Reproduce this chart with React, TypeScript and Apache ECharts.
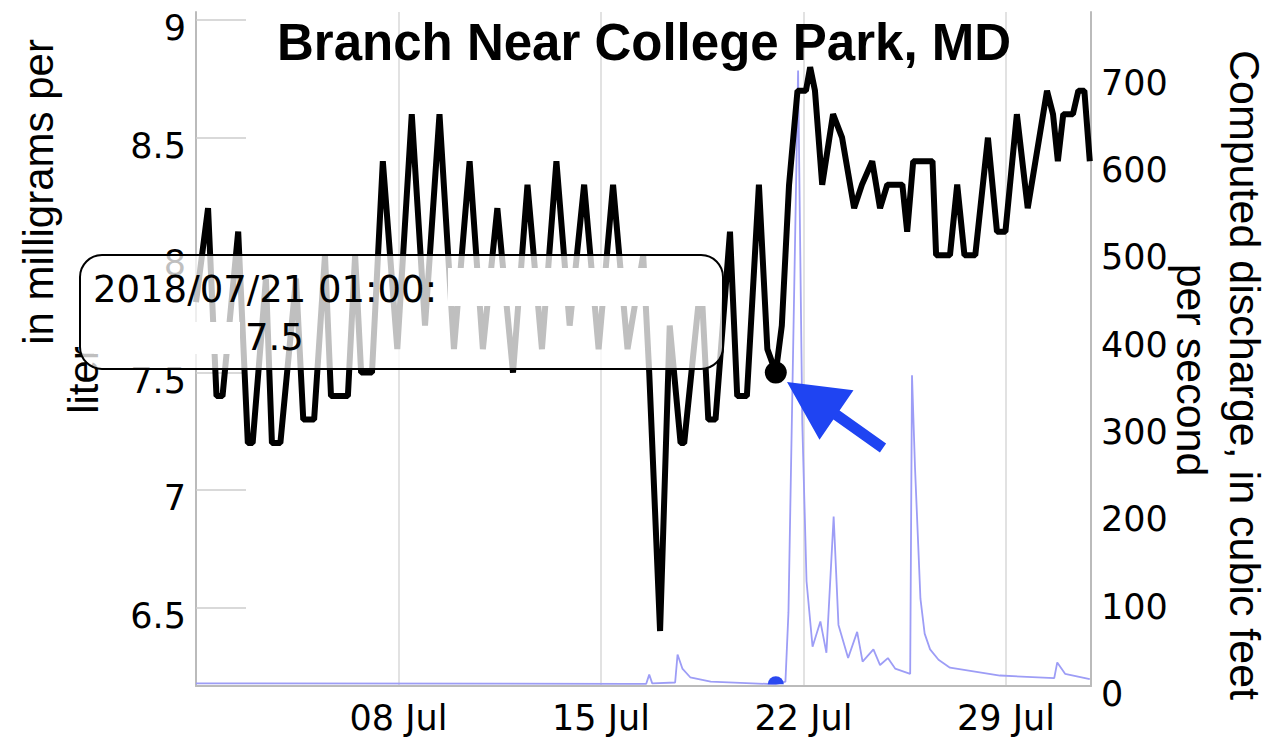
import React, { useEffect, useRef } from 'react';
import * as echarts from 'echarts';

const TITLE = 'Branch Near College Park, MD';
const LEFT_NAME_VISIBLE = 'in milligrams per';
const LEFT_NAME_LINE2 = 'liter';
const RIGHT_NAME_1 = 'Computed discharge, in cubic feet';
const RIGHT_NAME_2 = 'per second';

const xMin = '2018-07-01 00:00';
const xMax = '2018-07-31 22:30';
const weekTicks = ['2018-07-08 00:00', '2018-07-15 00:00', '2018-07-22 00:00', '2018-07-29 00:00'];
const leftTicks = [6.5, 7, 7.5, 8, 8.5, 9];
const monthNames = ['Jan', 'Feb', 'Mar', 'Apr', 'May', 'Jun', 'Jul', 'Aug', 'Sep', 'Oct', 'Nov', 'Dec'];

// Dissolved oxygen, mg/L
const doTimes = [
  '2018-07-01 00:00', '2018-07-01 10:00', '2018-07-01 17:00', '2018-07-01 22:00',
  '2018-07-02 11:00', '2018-07-02 19:00', '2018-07-02 23:00',
  '2018-07-03 10:00', '2018-07-03 15:00', '2018-07-03 22:00',
  '2018-07-04 11:00', '2018-07-04 17:00', '2018-07-05 02:00',
  '2018-07-05 11:00', '2018-07-05 16:00', '2018-07-06 06:00',
  '2018-07-06 12:00', '2018-07-06 17:00', '2018-07-07 02:00',
  '2018-07-07 11:00', '2018-07-07 23:00',
  '2018-07-08 11:00', '2018-07-08 22:00',
  '2018-07-09 10:00', '2018-07-09 22:00',
  '2018-07-10 11:00', '2018-07-10 22:00',
  '2018-07-11 10:00', '2018-07-11 23:00',
  '2018-07-12 11:00', '2018-07-12 23:00',
  '2018-07-13 11:00', '2018-07-13 22:00',
  '2018-07-14 10:00', '2018-07-14 22:00',
  '2018-07-15 10:00', '2018-07-15 22:00',
  '2018-07-16 11:00', '2018-07-16 16:00', '2018-07-17 01:00',
  '2018-07-17 09:00', '2018-07-17 18:00', '2018-07-17 21:00',
  '2018-07-18 11:00', '2018-07-18 17:00', '2018-07-18 23:00',
  '2018-07-19 11:00', '2018-07-19 17:00', '2018-07-20 01:00',
  '2018-07-20 11:00', '2018-07-20 18:00', '2018-07-21 01:00',
  '2018-07-21 06:00', '2018-07-21 12:00', '2018-07-21 19:00',
  '2018-07-22 02:00', '2018-07-22 05:30', '2018-07-22 09:30', '2018-07-22 15:30',
  '2018-07-23 00:30', '2018-07-23 08:00', '2018-07-23 18:00',
  '2018-07-24 00:30', '2018-07-24 09:00', '2018-07-24 15:30', '2018-07-24 21:30',
  '2018-07-25 10:00', '2018-07-25 14:00', '2018-07-25 19:00',
  '2018-07-26 11:00', '2018-07-26 14:00',
  '2018-07-27 01:30', '2018-07-27 07:30', '2018-07-27 13:30', '2018-07-27 22:30',
  '2018-07-28 09:00', '2018-07-28 16:30', '2018-07-28 23:30',
  '2018-07-29 09:00', '2018-07-29 18:00',
  '2018-07-30 10:00', '2018-07-30 15:00', '2018-07-30 19:00', '2018-07-30 23:30',
  '2018-07-31 07:30', '2018-07-31 12:00', '2018-07-31 17:00', '2018-07-31 21:30',
];
const doValues = [
  7.8, 8.2, 7.4, 7.4,
  8.1, 7.2, 7.2,
  7.9, 7.2, 7.2,
  7.9, 7.3, 7.3,
  8.0, 7.4, 7.4,
  8.0, 7.5, 7.5,
  8.4, 7.6,
  8.6, 7.7,
  8.6, 7.6,
  8.4, 7.6,
  8.2, 7.5,
  8.3, 7.6,
  8.4, 7.7,
  8.3, 7.6,
  8.3, 7.6,
  8.0, 7.5, 6.4,
  7.7, 7.2, 7.2,
  7.9, 7.3, 7.3,
  8.1, 7.4, 7.4,
  8.3, 7.6, 7.5,
  7.7, 8.3, 8.7,
  8.7, 8.8, 8.7, 8.3,
  8.6, 8.5, 8.2,
  8.3, 8.4, 8.2, 8.3,
  8.3, 8.1, 8.4,
  8.4, 8.0,
  8.0, 8.3, 8.0, 8.0,
  8.5, 8.1, 8.1,
  8.6, 8.2,
  8.7, 8.6, 8.4, 8.6,
  8.6, 8.7, 8.7, 8.4,
];

// Computed discharge, cubic feet per second
const qTimes = [
  '2018-07-01 00:00', '2018-07-16 00:00', '2018-07-16 13:30', '2018-07-16 16:00', '2018-07-16 18:30',
  '2018-07-17 13:30', '2018-07-17 15:30', '2018-07-17 19:30', '2018-07-18 02:00', '2018-07-18 19:00',
  '2018-07-21 01:00', '2018-07-21 09:00', '2018-07-21 11:30', '2018-07-21 19:30', '2018-07-21 23:00',
  '2018-07-22 02:30', '2018-07-22 07:30', '2018-07-22 14:00', '2018-07-22 19:00',
  '2018-07-23 01:00', '2018-07-23 05:00', '2018-07-23 13:00', '2018-07-23 20:30',
  '2018-07-24 01:00', '2018-07-24 10:00', '2018-07-24 15:30', '2018-07-24 22:00',
  '2018-07-25 04:00', '2018-07-25 16:30', '2018-07-25 18:00', '2018-07-25 20:30',
  '2018-07-26 01:00', '2018-07-26 04:30', '2018-07-26 09:00', '2018-07-26 16:00',
  '2018-07-27 01:30', '2018-07-28 19:00',
  '2018-07-30 16:00', '2018-07-30 18:30', '2018-07-31 01:00', '2018-07-31 21:30',
];
const qValues = [
  3, 2.5, 2.5, 13, 3,
  4, 36, 20, 10, 5,
  2, 5, 84, 705, 300,
  120, 45, 74, 38,
  194, 70, 32, 62,
  28, 42, 24, 32,
  20, 14, 356, 250,
  100, 60, 42, 30,
  21, 12,
  9, 27, 14, 8,
];

const hoverTime = '2018-07-21 01:00';

function ts(s: string): number {
  const [d, t = '00:00'] = s.split(' ');
  const [Y, M, D] = d.split('-').map(Number);
  const [h, m] = t.split(':').map(Number);
  return new Date(Y, M - 1, D, h, m).getTime();
}

function pad(n: number) {
  return String(n).padStart(2, '0');
}

export default function App() {
  const ref = useRef<HTMLDivElement>(null);
  useEffect(() => {
    if (!ref.current) return;
    const chart = echarts.init(ref.current, undefined, { renderer: 'svg' });
    const doData = doTimes.map((t, i) => [ts(t), doValues[i]]);
    const qData = qTimes.map((t, i) => [ts(t), qValues[i]]);
    const hi = doTimes.indexOf(hoverTime);
    const qi = qTimes.indexOf(hoverTime);
    const hd = new Date(ts(hoverTime));
    const tipLine1 = `${hd.getFullYear()}/${pad(hd.getMonth() + 1)}/${pad(hd.getDate())} ${pad(hd.getHours())}:${pad(hd.getMinutes())}:`;
    const tipLine2 = String(doValues[hi]);
    const labelFont = 'DejaVu Sans';
    const nameFont = 'Liberation Sans';
    const weekTs = weekTicks.map(ts);
    const yRich = { v: { fontFamily: labelFont, fontSize: 35, color: '#000', padding: [16, 0, 0, 0] } };

    chart.setOption({
      animation: false,
      title: {
        text: TITLE,
        left: 272,
        top: 12,
        textStyle: { fontFamily: 'Liberation Sans', fontWeight: 'bold', fontSize: 51, color: '#000' },
      },
      grid: { left: 196, right: 182, top: 12, bottom: 51 },
      xAxis: {
        type: 'value',
        min: ts(xMin),
        max: ts(xMax),
        axisLine: { show: true, lineStyle: { color: '#bbbbbb', width: 2 } },
        axisTick: { show: false, customValues: weekTs },
        splitLine: { show: true, lineStyle: { color: '#d9d9d9', width: 1.5 } },
        axisLabel: {
          customValues: weekTs,
          formatter: (v: number) => {
            const d = new Date(v);
            return `${pad(d.getDate())} ${monthNames[d.getMonth()]}`;
          },
          fontFamily: labelFont,
          fontSize: 35,
          color: '#000',
          margin: 14,
        },
      },
      yAxis: [
        {
          type: 'value',
          min: 6.166,
          max: 9.035,
          axisLine: { show: true, lineStyle: { color: '#bbbbbb', width: 2 } },
          axisTick: { show: true, inside: true, length: 50, customValues: leftTicks, lineStyle: { color: '#cccccc', width: 1.5 } },
          splitLine: { show: false },
          axisLabel: {
            customValues: leftTicks,
            formatter: (v: number) => `{v|${v}}`,
            rich: yRich,
            margin: 10,
          },
        },
        {
          type: 'value',
          position: 'right',
          min: 0,
          max: 772,
          interval: 100,
          axisLine: { show: true, lineStyle: { color: '#bbbbbb', width: 2 } },
          axisTick: { show: false },
          splitLine: { show: false },
          axisLabel: {
            formatter: (v: number) => `{v|${v}}`,
            rich: yRich,
            margin: 10,
            showMaxLabel: false,
          },
        },
      ],
      series: [
        {
          name: 'Discharge',
          type: 'line',
          yAxisIndex: 1,
          data: qData,
          showSymbol: false,
          lineStyle: { color: '#9d9df6', width: 1.8 },
          z: 2,
        },
        {
          name: 'Dissolved oxygen',
          type: 'line',
          yAxisIndex: 0,
          data: doData,
          showSymbol: false,
          lineStyle: { color: '#000', width: 6 },
          z: 3,
        },
        {
          type: 'scatter',
          yAxisIndex: 0,
          data: [[ts(hoverTime), doValues[hi]]],
          symbolSize: 22,
          itemStyle: { color: '#000', opacity: 1 },
          z: 5,
        },
        {
          type: 'scatter',
          yAxisIndex: 1,
          data: [[ts(hoverTime), qValues[qi]]],
          symbol: 'path://M0,10 A10,10 0 0 1 20,10 Z',
          symbolSize: [16, 8],
          symbolOffset: [0, -4],
          itemStyle: { color: '#2a48f0', opacity: 1 },
          z: 5,
        },
      ],
      graphic: [
        {
          type: 'text',
          x: 38,
          y: 192,
          rotation: Math.PI / 2,
          style: { text: LEFT_NAME_VISIBLE, fontFamily: nameFont, fontSize: 42, fill: '#000', align: 'center', verticalAlign: 'middle' },
          z: 10,
        },
        {
          type: 'text',
          x: 83,
          y: 380,
          rotation: Math.PI / 2,
          style: { text: LEFT_NAME_LINE2, fontFamily: nameFont, fontSize: 42, fill: '#000', align: 'center', verticalAlign: 'middle' },
          z: 10,
        },
        {
          type: 'text',
          x: 1245,
          y: 375,
          rotation: -Math.PI / 2,
          style: { text: RIGHT_NAME_1, fontFamily: nameFont, fontSize: 43, fill: '#000', align: 'center', verticalAlign: 'middle' },
          z: 10,
        },
        {
          type: 'text',
          x: 1192,
          y: 370,
          rotation: -Math.PI / 2,
          style: { text: RIGHT_NAME_2, fontFamily: nameFont, fontSize: 43, fill: '#000', align: 'center', verticalAlign: 'middle' },
          z: 10,
        },
        {
          type: 'group',
          z: 20,
          children: [
            {
              type: 'rect',
              shape: { x: 80, y: 255, width: 643, height: 114, r: 22 },
              style: { fill: 'rgba(255,255,255,0.75)', stroke: '#000', lineWidth: 2 },
              z: 20,
            },
            {
              type: 'rect',
              shape: { x: 448, y: 268, width: 272, height: 38 },
              style: { fill: '#fff' },
              z: 21,
            },
            {
              type: 'rect',
              shape: { x: 94, y: 322, width: 146, height: 32 },
              style: { fill: '#fff' },
              z: 21,
            },
            {
              type: 'text',
              x: 93,
              y: 289,
              style: { text: tipLine1, fontFamily: labelFont, fontSize: 37, fill: '#000', align: 'left', verticalAlign: 'middle' },
              z: 22,
            },
            {
              type: 'text',
              x: 245,
              y: 337,
              style: { text: tipLine2, fontFamily: labelFont, fontSize: 37, fill: '#000', align: 'left', verticalAlign: 'middle' },
              z: 22,
            },
          ],
        },
        {
          type: 'polygon',
          z: 25,
          shape: {
            points: [
              [787, 382], [853.5, 390.2], [839.6, 410.5], [886.1, 443.5],
              [879.9, 452.5], [833.4, 419.5], [819.5, 439.8],
            ],
          },
          style: { fill: '#1f44f2' },
        },
      ],
    });
    return () => chart.dispose();
  }, []);
  return (
    <div
      ref={ref}
      style={{ position: 'fixed', left: 0, top: 0, width: 1273, height: 737, background: '#fff' }}
    />
  );
}
